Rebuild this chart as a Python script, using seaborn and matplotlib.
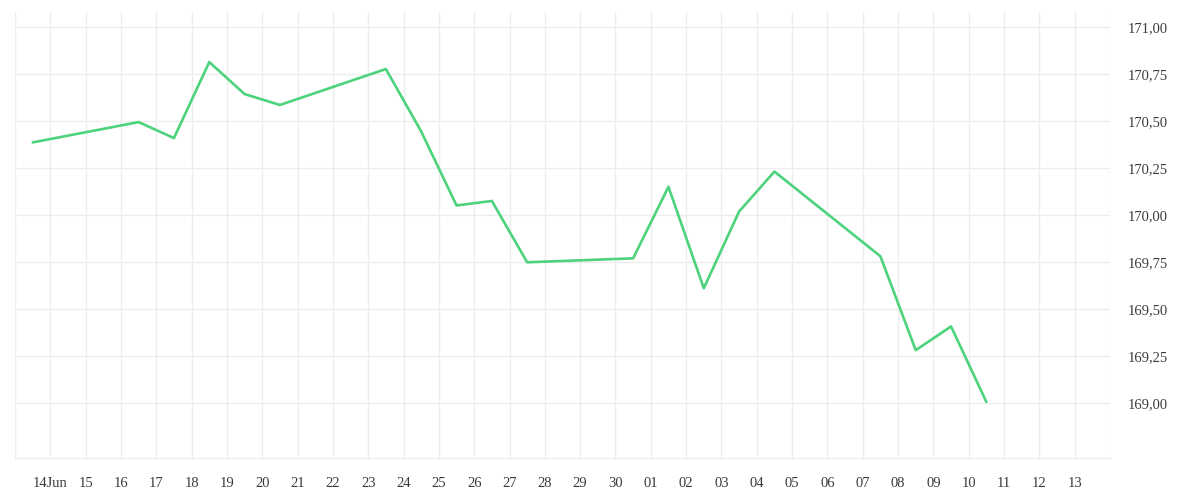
import pandas as pd
import matplotlib
matplotlib.use("Agg")
import matplotlib.pyplot as plt
import matplotlib.ticker as mticker
import seaborn as sns

sns.set_theme(style="white")
plt.rcParams["font.family"] = ["Liberation Serif", "DejaVu Serif"]

# data (timestamps sit at midday)
dates = ["2024-06-13", "2024-06-16", "2024-06-17", "2024-06-18", "2024-06-19",
         "2024-06-20", "2024-06-23", "2024-06-24", "2024-06-25", "2024-06-26",
         "2024-06-27", "2024-06-30", "2024-07-01", "2024-07-02", "2024-07-03",
         "2024-07-04", "2024-07-07", "2024-07-08", "2024-07-09", "2024-07-10"]
prices = [170.387, 170.495, 170.41, 170.814, 170.644,
          170.586, 170.777, 170.445, 170.052, 170.076,
          169.75, 169.771, 170.151, 169.612, 170.02,
          170.232, 169.782, 169.283, 169.409, 169.008]

tick_days = pd.date_range("2024-06-13", "2024-07-14", freq="D")
tick_labels = ["", "14Jun", "15", "16", "17", "18", "19", "20", "21", "22", "23",
               "24", "25", "26", "27", "28", "29", "30", "01", "02", "03", "04",
               "05", "06", "07", "08", "09", "10", "11", "12", "13", ""]
y_ticks = [169.00, 169.25, 169.50, 169.75, 170.00, 170.25, 170.50, 170.75, 171.00]

df = pd.DataFrame({"date": pd.to_datetime(dates) + pd.Timedelta(hours=12),
                   "price": prices})

GRID = "#ededed"
fig = plt.figure(figsize=(12, 5), dpi=100)
ax = fig.add_axes([0.0125, 0.084, 0.9125, 0.892])

sns.lineplot(data=df, x="date", y="price", ax=ax, color="#4cd37b", linewidth=1.9)

ax.set_xlim(tick_days[0], tick_days[-1])
ax.set_ylim(168.71, 171.08)
ax.set_xticks(tick_days)
ax.set_xticklabels(tick_labels)
ax.set_yticks(y_ticks)
ax.yaxis.set_major_formatter(mticker.FuncFormatter(lambda v, p: f"{v:.2f}".replace(".", ",")))
ax.yaxis.tick_right()

ax.grid(True, color=GRID, linewidth=1)
for s in ["top", "left", "right"]:
    ax.spines[s].set_visible(False)
ax.spines["bottom"].set_color(GRID)
ax.spines["bottom"].set_linewidth(1)

ax.tick_params(axis="x", length=6, width=1, color=GRID, pad=8, labelsize=10.5, labelcolor="#3a3a3a")
ax.tick_params(axis="y", length=0, pad=13, labelsize=10.5, labelcolor="#3a3a3a")
ax.set_xlabel("")
ax.set_ylabel("")

fig.savefig("out.png", dpi=100)
